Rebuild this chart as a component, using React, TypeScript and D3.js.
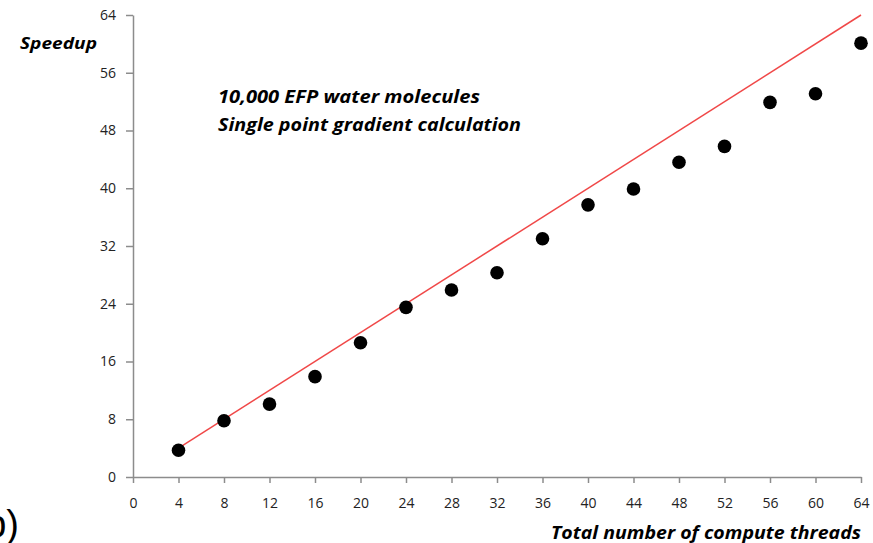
import React, { useEffect, useRef } from "react";
import * as d3 from "d3";

const threads = [4, 8, 12, 16, 20, 24, 28, 32, 36, 40, 44, 48, 52, 56, 60, 64];
const speedup = [3.7, 7.8, 10.1, 13.9, 18.6, 23.5, 25.9, 28.3, 33.0, 37.7, 39.9, 43.6, 45.8, 51.9, 53.1, 60.1];
const idealX = [4, 64];
const idealY = [4, 64];
const xTicks = [0, 4, 8, 12, 16, 20, 24, 28, 32, 36, 40, 44, 48, 52, 56, 60, 64];
const yTicks = [0, 8, 16, 24, 32, 40, 48, 56, 64];
const noteLines = ["10,000 EFP water molecules", "Single point gradient calculation"];
const noteWidths = [262, 303];

const W = 873;
const H = 543;
const FONT = "'Open Sans', Lato, sans-serif";

export default function App() {
    const ref = useRef<SVGSVGElement>(null);

    useEffect(() => {
        const svg = d3.select(ref.current);
        svg.selectAll("*").remove();

        const x = d3.scaleLinear().domain([0, 64]).range([133, 861]);
        const y = d3.scaleLinear().domain([0, 64]).range([477, 15]);

        // x axis
        const gx = svg.append("g")
            .attr("transform", "translate(0," + y(0) + ")")
            .call(d3.axisBottom(x).tickValues(xTicks).tickSize(6).tickSizeOuter(0).tickPadding(15));
        gx.select(".domain").attr("stroke", "#8c8c8c").attr("stroke-width", 1.5);
        gx.selectAll(".tick line").attr("stroke", "#8c8c8c").attr("stroke-width", 1.5);
        gx.selectAll(".tick text")
            .attr("fill", "#222")
            .style("font-family", FONT)
            .style("font-size", "14px");

        // y axis
        const gy = svg.append("g")
            .attr("transform", "translate(" + x(0) + ",0)")
            .call(d3.axisLeft(y).tickValues(yTicks).tickSize(7).tickSizeOuter(0).tickPadding(10));
        gy.select(".domain").attr("stroke", "#8c8c8c").attr("stroke-width", 1.5);
        gy.selectAll(".tick line").attr("stroke", "#8c8c8c").attr("stroke-width", 1.5);
        gy.selectAll(".tick text")
            .attr("fill", "#222")
            .style("font-family", FONT)
            .style("font-size", "14px");

        // ideal speedup
        const line = d3.line<number>()
            .x(d => x(d))
            .y((d, i) => y(idealY[i]));
        svg.append("path")
            .datum(idealX)
            .attr("d", line)
            .attr("fill", "none")
            .attr("stroke", "#f04848")
            .attr("stroke-width", 1.5);

        // measured points
        svg.selectAll(".dot")
            .data(threads)
            .enter().append("circle")
            .attr("class", "dot")
            .attr("cx", d => x(d))
            .attr("cy", (d, i) => y(speedup[i]))
            .attr("r", 6.8)
            .attr("fill", "#000");

        svg.append("text")
            .attr("x", 20)
            .attr("y", 49)
            .attr("font-family", FONT)
            .attr("font-size", 16)
            .attr("font-weight", "bold")
            .attr("font-style", "italic")
            .attr("textLength", 77)
            .attr("lengthAdjust", "spacingAndGlyphs")
            .text("Speedup");

        svg.append("text")
            .attr("x", 551)
            .attr("y", 539)
            .attr("font-family", FONT)
            .attr("font-size", 17)
            .attr("font-weight", "bold")
            .attr("font-style", "italic")
            .attr("textLength", 310)
            .attr("lengthAdjust", "spacingAndGlyphs")
            .text("Total number of compute threads");

        svg.selectAll(".note")
            .data(noteLines)
            .enter().append("text")
            .attr("class", "note")
            .attr("x", 218)
            .attr("y", (d, i) => 103 + i * 28)
            .attr("font-family", FONT)
            .attr("font-size", 18)
            .attr("font-weight", "bold")
            .attr("font-style", "italic")
            .attr("textLength", (d, i) => noteWidths[i])
            .attr("lengthAdjust", "spacingAndGlyphs")
            .text(d => d);

        // panel label, mostly cut off at the left edge
        svg.append("text")
            .attr("x", 19)
            .attr("y", 537)
            .attr("text-anchor", "end")
            .attr("font-family", "'Liberation Sans', Arial, sans-serif")
            .attr("font-size", 38)
            .text("b)");
    }, []);

    return (
        <svg
            ref={ref}
            width={W}
            height={H}
            style={{ position: "absolute", left: 0, top: 0, background: "#fff" }}
        />
    );
}
